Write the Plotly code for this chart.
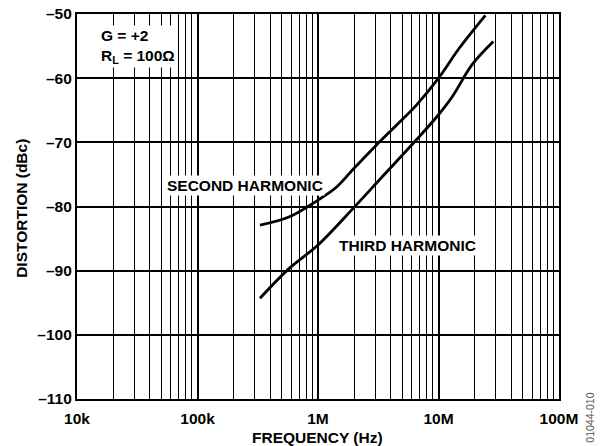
import plotly.graph_objects as go

# Data
second_freq = [3.3e5, 5.8e5, 1.0e6, 1.42e6, 2.0e6, 3.06e6, 4.5e6, 6.56e6, 1.0e7, 1.49e7, 2.45e7]
second_dbc = [-82.9, -81.6, -79.0, -77.0, -74.0, -70.4, -67.3, -64.2, -60.0, -55.3, -50.2]

third_freq = [3.3e5, 5.8e5, 1.0e6, 2.0e6, 3.4e6, 6.56e6, 1.0e7, 1.3e7, 1.9e7, 2.85e7]
third_dbc = [-94.3, -89.6, -86.0, -80.1, -75.4, -69.6, -65.7, -62.9, -57.9, -54.3]

x_tickvals = [1e4, 1e5, 1e6, 1e7, 1e8]
x_ticktext = ["10k", "100k", "1M", "10M", "100M"]
y_tickvals = [-110, -100, -90, -80, -70, -60, -50]
y_ticktext = ["\u2013110", "\u2013100", "\u201390", "\u201380", "\u201370", "\u201360", "\u201350"]

FONT = "Liberation Sans, Arial, sans-serif"
FS = 15.5
bold = dict(family=FONT, size=FS, color="black", weight="bold")

fig = go.Figure()
fig.add_trace(go.Scatter(x=second_freq, y=second_dbc, mode="lines",
                         line=dict(color="black", width=2.8, shape="spline", smoothing=1.0),
                         name="SECOND HARMONIC", showlegend=False))
fig.add_trace(go.Scatter(x=third_freq, y=third_dbc, mode="lines",
                         line=dict(color="black", width=2.8, shape="spline", smoothing=1.0),
                         name="THIRD HARMONIC", showlegend=False))

fig.update_layout(
    width=608, height=446,
    margin=dict(l=77, r=49, t=14, b=47, autoexpand=False),
    paper_bgcolor="white", plot_bgcolor="white",
    font=dict(family=FONT, size=FS, color="black"),
    xaxis=dict(
        type="log", range=[4, 8], automargin=False,
        tickvals=x_tickvals, ticktext=x_ticktext,
        tickfont=bold, ticklabelstandoff=4,
        ticks="", showgrid=True, gridcolor="black", gridwidth=2,
        minor=dict(dtick="D1", showgrid=True, gridcolor="black", gridwidth=1.2, ticks=""),
        showline=True, linecolor="black", linewidth=2.2, mirror=True,
        zeroline=False,
    ),
    yaxis=dict(
        range=[-110, -50], automargin=False,
        tickvals=y_tickvals, ticktext=y_ticktext,
        tickfont=bold,
        ticks="", showgrid=True, gridcolor="black", gridwidth=1.6,
        showline=True, linecolor="black", linewidth=2.2, mirror=True,
        zeroline=False,
    ),
)

# axis titles
fig.add_annotation(xref="paper", yref="paper", x=0.498, y=-0.101, xanchor="center", yanchor="middle",
                   text="FREQUENCY (Hz)", showarrow=False, font=bold)
fig.add_annotation(xref="paper", yref="paper", x=-0.114, y=0.494, xanchor="center", yanchor="middle",
                   text="DISTORTION (dBc)", textangle=-90, showarrow=False, font=bold)

# in-plot labels
fig.add_annotation(xref="paper", yref="paper", x=0.046, y=0.972, xanchor="left", yanchor="top",
                   text="G = +2<br>R<sub>L</sub> = 100\u03a9", align="left", showarrow=False,
                   font=bold, bgcolor="white", borderpad=1)
fig.add_annotation(x=5.394, y=-76.65, xref="x", yref="y",
                   text="SECOND HARMONIC", showarrow=False, font=bold,
                   bgcolor="white", borderpad=1)
fig.add_annotation(x=6.739, y=-86.0, xref="x", yref="y",
                   text="THIRD HARMONIC", showarrow=False, font=bold,
                   bgcolor="white", borderpad=1)
fig.add_annotation(xref="paper", yref="paper", x=1.064, y=-0.049, xanchor="center", yanchor="middle",
                   text="01044-010", textangle=-90, showarrow=False,
                   font=dict(family=FONT, size=10.5, color="#555555"))

fig.write_html("out.html", config={"displayModeBar": False},
               post_script="document.body.style.margin='0';document.body.style.overflow='hidden';")
